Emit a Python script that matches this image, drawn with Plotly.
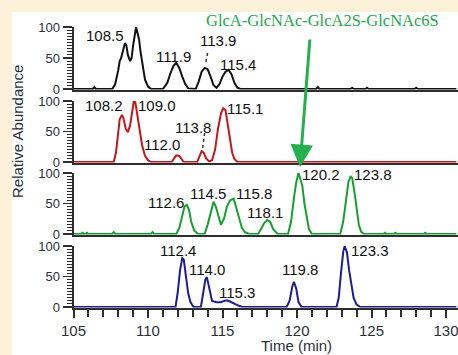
import plotly.graph_objects as go

# ---------------- data ----------------
t1 = [105.0, 106.3, 106.4, 106.5, 107.6, 107.8, 108.0, 108.1, 108.2, 108.35, 108.45, 108.55, 108.65, 108.8, 108.9,
      109.0, 109.1, 109.2, 109.3, 109.4, 109.5, 109.65, 109.8, 110.0, 110.2, 111.0, 111.3, 111.5, 111.7, 111.9,
      112.1, 112.3, 112.5, 112.7, 113.2, 113.4, 113.6, 113.8, 114.0, 114.2, 114.4, 114.6, 114.8, 115.0, 115.2,
      115.4, 115.6, 115.8, 116.0, 116.2, 121.3, 121.4, 121.5, 123.6, 123.7, 123.8, 124.6, 124.7, 124.8, 127.9,
      128.0, 128.1, 130.7]
a1 = [0, 0, 3, 0, 0, 8, 30, 45, 50, 68, 74, 70, 55, 45, 50,
      70, 85, 100, 90, 80, 60, 35, 15, 4, 0, 0, 10, 25, 37, 42,
      34, 20, 8, 1, 0, 12, 28, 34, 32, 20, 6, 2, 8, 20, 28,
      31, 24, 10, 2, 0, 0, 3, 0, 0, 2, 0, 0, 2, 0, 0,
      2, 0, 0]

t2 = [105.0, 107.7, 107.85, 108.0, 108.1, 108.25, 108.35, 108.5, 108.65, 108.8, 108.95, 109.05, 109.15, 109.3,
      109.45, 109.6, 109.8, 110.0, 110.2, 111.6, 111.75, 111.9, 112.1, 112.3, 112.4, 113.3, 113.45, 113.6,
      113.75, 113.9, 114.1, 114.3, 114.5, 114.7, 114.9, 115.05, 115.2, 115.35, 115.5, 115.65, 115.8, 116.0, 130.7]
a2 = [0, 0, 15, 45, 70, 77, 72, 55, 49, 60, 90, 100, 98, 75,
      50, 28, 10, 3, 0, 0, 6, 11, 10, 2, 0, 0, 8, 18,
      15, 6, 1, 3, 20, 55, 80, 88, 85, 60, 35, 15, 5, 0, 0]

t3 = [105.0, 105.55, 105.6, 105.65, 105.85, 105.9, 105.95, 107.6, 107.7, 107.8, 110.2, 110.3, 110.4, 111.9,
      112.1, 112.3, 112.45, 112.6, 112.75, 112.9, 113.1, 113.35, 113.8, 114.0, 114.2, 114.4, 114.55, 114.7,
      114.9, 115.1, 115.3, 115.5, 115.75, 115.9, 116.1, 116.3, 116.5, 116.8, 117.4, 117.6, 117.8, 118.0,
      118.2, 118.4, 118.7, 119.4, 119.6, 119.8, 119.95, 120.1, 120.2, 120.35, 120.5, 120.65, 120.8, 121.0,
      122.9, 123.1, 123.3, 123.45, 123.6, 123.7, 123.85, 124.0, 124.15, 124.3, 124.5, 125.8, 125.9, 126.0,
      126.5, 126.6, 126.7, 128.5, 128.6, 128.7, 130.7]
a3 = [0, 0, 3, 0, 0, 3, 0, 0, 3, 0, 0, 3, 0, 0,
      10, 30, 45, 48, 40, 20, 6, 0, 0, 15, 35, 53, 45, 30,
      15, 25, 45, 55, 58, 45, 25, 10, 3, 0, 0, 8, 18, 23,
      20, 8, 0, 0, 20, 60, 85, 100, 92, 80, 50, 25, 8, 0,
      0, 20, 55, 85, 95, 92, 70, 40, 15, 4, 0, 0, 2, 0,
      0, 2, 0, 0, 2, 0, 0]

t4 = [105.0, 111.85, 112.0, 112.15, 112.3, 112.4, 112.55, 112.7, 112.85, 113.05, 113.55, 113.7, 113.85, 113.95,
      114.1, 114.3, 114.6, 114.9, 115.1, 115.3, 115.5, 115.8, 116.1, 116.35, 119.3, 119.5, 119.7, 119.8,
      119.95, 120.1, 120.3, 122.65, 122.8, 122.95, 123.1, 123.2, 123.35, 123.5, 123.65, 123.8, 124.0, 124.25, 130.7]
a4 = [0, 0, 25, 60, 80, 78, 50, 22, 8, 0, 0, 20, 45, 49,
      30, 10, 8, 8, 10, 11, 9, 5, 2, 0, 0, 10, 35, 41,
      30, 8, 0, 0, 15, 55, 90, 100, 90, 60, 35, 15, 4, 0, 0]

# peak labels
lab1_text = ["108.5", "109.2", "111.9", "113.9", "115.4"]
lab1_t = [107.13, 109.47, 111.73, 114.67, 116.07]
lab1_y = [87, 113, 52, 79, 39]
lab2_text = ["108.2", "109.0", "112.0", "113.8", "115.1"]
lab2_t = [107.03, 110.6, 110.93, 113.0, 116.53]
lab2_y = [93, 93, 28, 56, 88]
lab3_text = ["112.6", "114.5", "115.8", "118.1", "120.2", "123.8"]
lab3_t = [111.2, 114.0, 117.13, 117.87, 121.6, 125.13]
lab3_y = [52, 67, 67, 36, 97, 97]
lab4_text = ["112.4", "114.0", "115.3", "119.8", "123.3"]
lab4_t = [112.0, 113.93, 116.0, 120.2, 124.93]
lab4_y = [93, 61, 23, 61, 93]

# dotted leaders (panel 1 and 2)
lead1_t = [114.0, 113.87]
lead1_y = [58, 42]
lead2_t = [113.8, 113.67]
lead2_y = [47.5, 23]

title_text = "GlcA-GlcNAc-GlcA2S-GlcNAc6S"

# ---------------- style ----------------
W, H = 458, 355
CREAM = "#FCF1D9"
AXC = "#2e2e2e"
TXT = "#2b2f3a"
SANS = "Liberation Sans, Arial, sans-serif"
SERIF = "Liberation Serif, Times New Roman, serif"
colors = ["#111111", "#c4161c", "#14a02e", "#1c1c96"]

def px(p):
    return p / W

def py(p):
    return 1 - p / H

XMIN = 105.0
XPX0 = 73.5
PXPU = 14.9
XMAX = XMIN + (W - XPX0) / PXPU

# pixel rows of the 100 and 0 levels of each panel
panel_top = [27, 101, 173, 246]
panel_bot = [89, 162, 234, 307]
YR = [-1.0, 100.5]

fig = go.Figure()
series = [(t1, a1), (t2, a2), (t3, a3), (t4, a4)]
for i, (t, a) in enumerate(series):
    k = "" if i == 0 else str(i + 1)
    fig.add_trace(go.Scatter(x=t, y=a, mode="lines", xaxis="x" + k, yaxis="y" + k,
                             line=dict(color=colors[i], width=2), showlegend=False,
                             hoverinfo="skip"))

layout = dict(
    template="none",
    width=W, height=H,
    margin=dict(l=0, r=0, t=0, b=0, pad=0),
    paper_bgcolor=CREAM,
    plot_bgcolor="rgba(0,0,0,0)",
    showlegend=False,
)
for i in range(4):
    k = "" if i == 0 else str(i + 1)
    s = (panel_bot[i] - panel_top[i]) / 100.0
    d0 = py(panel_bot[i] - YR[0] * s)
    d1 = py(panel_top[i] - (YR[1] - 100) * s)
    last = i == 3
    layout["xaxis" + k] = dict(
        domain=[px(XPX0), 1], range=[XMIN, XMAX], anchor="y" + k, automargin=False,
        showline=True, linecolor=AXC, linewidth=2, showgrid=False, zeroline=False,
        layer="below traces",
        showticklabels=last, ticks="outside" if last else "",
        tickmode="linear", tick0=105, dtick=5, ticklen=8, tickwidth=2, tickcolor=AXC,
        ticklabeloverflow="allow",
        tickfont=dict(family=SANS, size=15, color=TXT),
        minor=dict(dtick=1, tick0=105, ticks="outside" if last else "", ticklen=7, tickwidth=2,
                   tickcolor=AXC, showgrid=False),
    )
    layout["yaxis" + k] = dict(
        domain=[d0, d1], range=YR, anchor="x" + k, automargin=False,
        showline=True, linecolor=AXC, linewidth=2, showgrid=False, zeroline=False,
        ticks="outside", tickmode="linear", tick0=0, dtick=50, ticklen=9, tickwidth=1.5, tickcolor=AXC,
        ticklabeloverflow="allow",
        tickfont=dict(family=SANS, size=13, color=TXT),
        minor=dict(dtick=5, tick0=0, ticks="outside", ticklen=5, tickwidth=1, tickcolor=AXC,
                   showgrid=False),
    )

fig.update_layout(**layout)

# white panel
fig.add_shape(type="rect", xref="paper", yref="paper", x0=px(12), x1=1.0, y0=0, y1=py(12),
              line=dict(width=0), fillcolor="white", layer="below")

annots = []
labs = [(lab1_text, lab1_t, lab1_y), (lab2_text, lab2_t, lab2_y),
        (lab3_text, lab3_t, lab3_y), (lab4_text, lab4_t, lab4_y)]
for i, (tx, tt, yy) in enumerate(labs):
    k = "" if i == 0 else str(i + 1)
    for s_, x_, y_ in zip(tx, tt, yy):
        annots.append(dict(text=s_, x=x_, y=y_, xref="x" + k, yref="y" + k, showarrow=False,
                           xanchor="center", yanchor="middle",
                           font=dict(family=SANS, size=15, color="#111111")))

# leaders
fig.add_shape(type="line", xref="x", yref="y", x0=lead1_t[0], x1=lead1_t[1], y0=lead1_y[0], y1=lead1_y[1],
              line=dict(color="#333333", width=1.5, dash="dot"))
fig.add_shape(type="line", xref="x2", yref="y2", x0=lead2_t[0], x1=lead2_t[1], y0=lead2_y[0], y1=lead2_y[1],
              line=dict(color="#333333", width=1.5, dash="dot"))

# title text and arrow
GREEN = "#22B14C"
annots.append(dict(text=title_text, x=px(322), y=py(20), xref="paper", yref="paper", showarrow=False,
                   xanchor="center", yanchor="middle",
                   font=dict(family=SERIF, size=16.5, color="#1fa84a")))
annots.append(dict(text="", x=120.2, y=py(167), xref="x", yref="paper",
                   ax=10, ay=-129, axref="pixel", ayref="pixel",
                   showarrow=True, arrowhead=2, arrowsize=1.5, arrowwidth=3, arrowcolor=GREEN))

# axis titles
annots.append(dict(text="Relative Abundance", x=px(18), y=py(132), xref="paper", yref="paper",
                   showarrow=False, textangle=-90, xanchor="center", yanchor="middle",
                   font=dict(family=SANS, size=15, color=TXT)))
annots.append(dict(text="Time (min)", x=px(296), y=py(345), xref="paper", yref="paper",
                   showarrow=False, xanchor="center", yanchor="middle",
                   font=dict(family=SANS, size=15, color=TXT)))

fig.update_layout(annotations=annots)
fig.write_html("out.html",
               config={"displayModeBar": False, "staticPlot": True},
               post_script="document.body.style.margin='0';document.body.style.padding='0';"
                           "document.body.style.overflow='hidden';")
